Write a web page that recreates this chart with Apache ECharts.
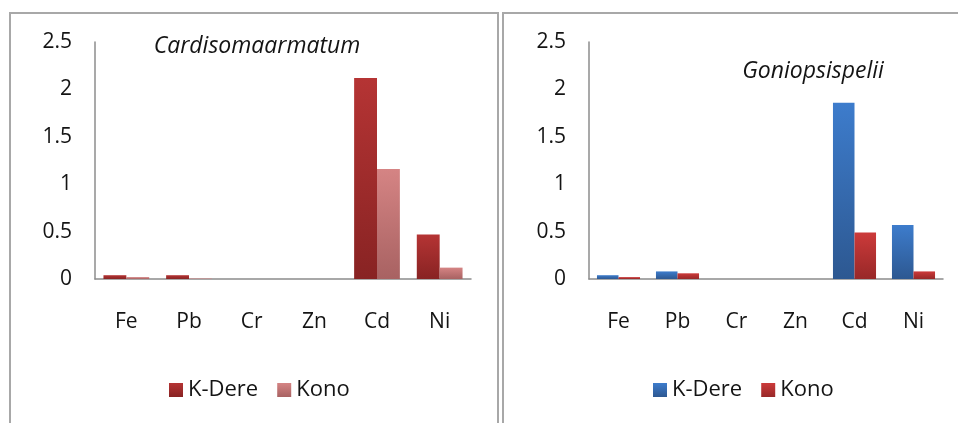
<!DOCTYPE html>
<html>
<head>
<meta charset="utf-8">
<script src="https://cdn.jsdelivr.net/npm/echarts@6/dist/echarts.min.js"></script>
<style>
  html, body { margin: 0; padding: 0; background: #ffffff; }
  #left { position: absolute; left: 0; top: 0; width: 500px; height: 423px; }
  #right { position: absolute; left: 500px; top: 0; width: 458px; height: 423px; }
</style>
</head>
<body>
<div id="left"></div>
<div id="right"></div>
<script>
const metals = ["Fe", "Pb", "Cr", "Zn", "Cd", "Ni"];
const yTicks = [0, 0.5, 1, 1.5, 2, 2.5];

// Cardisoma armatum
const cardisomaKDere = [0.04, 0.04, 0, 0, 2.12, 0.47];
const cardisomaKono = [0.02, 0.005, 0, 0, 1.16, 0.12];

// Goniopsis pelii
const goniopsisKDere = [0.04, 0.08, 0, 0, 1.86, 0.57];
const goniopsisKono = [0.02, 0.06, 0, 0, 0.49, 0.08];

const FONT = "'Open Sans', sans-serif";
const TEXT = "#141414";

const grad = (top, bottom) => new echarts.graphic.LinearGradient(0, 0, 0, 1, [
  { offset: 0, color: top },
  { offset: 1, color: bottom }
]);

function buildOption(cfg) {
  return {
    animation: false,
    textStyle: { fontFamily: FONT },
    graphic: [
      {
        type: "rect",
        shape: cfg.frame,
        style: { fill: "none", stroke: "#a8a8a8", lineWidth: 2 },
        silent: true
      },
      {
        type: "text",
        x: cfg.titlePos[0],
        y: cfg.titlePos[1],
        style: {
          text: cfg.title,
          fontFamily: FONT,
          fontStyle: "italic",
          fontSize: 23,
          fill: TEXT,
          align: "center",
          verticalAlign: "middle"
        }
      }
    ],
    legend: {
      left: cfg.legendLeft,
      top: 374,
      icon: "rect",
      itemWidth: 14,
      itemHeight: 14,
      itemGap: 19,
      textStyle: { fontSize: 22, color: TEXT, fontFamily: FONT },
      data: ["K-Dere", "Kono"]
    },
    grid: {
      left: cfg.grid[0],
      top: 42,
      width: cfg.grid[1],
      height: 237
    },
    xAxis: {
      type: "category",
      data: metals,
      axisLine: { lineStyle: { color: "#8c8c8c", width: 1.5 } },
      axisTick: { show: false },
      axisLabel: { fontSize: 21, color: TEXT, margin: 33 }
    },
    yAxis: {
      type: "value",
      min: yTicks[0],
      max: yTicks[yTicks.length - 1],
      interval: 0.5,
      axisLine: { show: true, lineStyle: { color: "#8c8c8c", width: 1.5 } },
      axisTick: { show: false },
      splitLine: { show: false },
      axisLabel: { fontSize: 21, color: TEXT, margin: 23 }
    },
    series: [
      {
        name: "K-Dere",
        type: "bar",
        data: cfg.kdere,
        barGap: "0%",
        barCategoryGap: "27%",
        itemStyle: { color: grad(cfg.c1[0], cfg.c1[1]) }
      },
      {
        name: "Kono",
        type: "bar",
        data: cfg.kono,
        itemStyle: { color: grad(cfg.c2[0], cfg.c2[1]) }
      }
    ]
  };
}

const leftChart = echarts.init(document.getElementById("left"));
leftChart.setOption(buildOption({
  frame: { x: 10, y: 13, width: 488, height: 420 },
  title: "Cardisomaarmatum",
  titlePos: [257, 46],
  legendLeft: 164,
  grid: [95, 376],
  kdere: cardisomaKDere,
  kono: cardisomaKono,
  c1: ["#b53434", "#882323"],
  c2: ["#d58484", "#a86262"]
}));

const rightChart = echarts.init(document.getElementById("right"));
rightChart.setOption(buildOption({
  frame: { x: 3, y: 13, width: 470, height: 420 },
  title: "Goniopsispelii",
  titlePos: [313, 71],
  legendLeft: 148,
  grid: [89, 354],
  kdere: goniopsisKDere,
  kono: goniopsisKono,
  c1: ["#3d7ccc", "#2d5891"],
  c2: ["#cc3a3a", "#982828"]
}));
</script>
</body>
</html>
